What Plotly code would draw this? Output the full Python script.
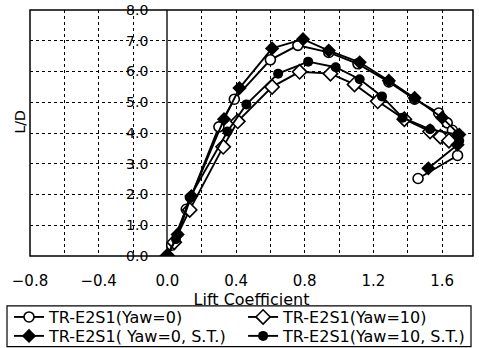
import plotly.graph_objects as go

# Lift-to-drag ratio versus lift coefficient, four test configurations
cl_yaw0 = [0.00, 0.025, 0.11, 0.30, 0.39, 0.60, 0.76, 0.94, 1.11, 1.29, 1.44, 1.58, 1.63, 1.66, 1.69, 1.46]
ld_yaw0 = [0.00, 0.35, 1.52, 4.20, 5.10, 6.38, 6.85, 6.62, 6.25, 5.66, 5.10, 4.65, 4.33, 4.09, 3.27, 2.52]

cl_yaw10 = [0.00, 0.04, 0.13, 0.325, 0.41, 0.61, 0.77, 0.95, 1.09, 1.225, 1.38, 1.53, 1.59, 1.64]
ld_yaw10 = [0.00, 0.45, 1.50, 3.55, 4.38, 5.50, 5.99, 5.93, 5.58, 5.03, 4.45, 4.05, 3.88, 3.75]

cl_yaw0_st = [0.00, 0.06, 0.14, 0.33, 0.42, 0.61, 0.79, 0.94, 1.12, 1.29, 1.44, 1.60, 1.70, 1.69, 1.52]
ld_yaw0_st = [0.00, 0.70, 1.95, 4.45, 5.46, 6.75, 7.05, 6.68, 6.30, 5.70, 5.14, 4.50, 3.95, 3.62, 2.85]

cl_yaw10_st = [0.00, 0.05, 0.13, 0.35, 0.46, 0.645, 0.82, 0.98, 1.12, 1.25, 1.37, 1.53, 1.69, 1.70]
ld_yaw10_st = [0.00, 0.55, 1.90, 4.05, 4.93, 5.93, 6.32, 6.14, 5.75, 5.19, 4.50, 4.12, 3.95, 3.75]

x_ticks = [-0.8, -0.4, 0.0, 0.4, 0.8, 1.2, 1.6]
x_minor = [-0.6, -0.2, 0.2, 0.6, 1.0, 1.4]
y_ticks = [0, 1, 2, 3, 4, 5, 6, 7, 8]

FONT = "DejaVu Sans"
X_MIN, X_MAX = -0.8, 1.78

fig = go.Figure()

# one legend box per cell of the 2x2 key
series = [
    ("TR-E2S1(Yaw=0)", cl_yaw0, ld_yaw0, "circle", True, 10, "legend"),
    ("TR-E2S1(Yaw=10)", cl_yaw10, ld_yaw10, "diamond", True, 11, "legend2"),
    ("TR-E2S1( Yaw=0, S.T.)", cl_yaw0_st, ld_yaw0_st, "diamond", False, 11, "legend3"),
    ("TR-E2S1(Yaw=10, S.T.)", cl_yaw10_st, ld_yaw10_st, "circle", False, 10, "legend4"),
]
for name, xs, ys, sym, hollow, size, leg in series:
    fig.add_trace(go.Scatter(
        x=xs, y=ys, name=name, mode="lines+markers", showlegend=True,
        line=dict(color="black", width=1.9),
        marker=dict(symbol=sym, size=size,
                    color="white" if hollow else "black",
                    line=dict(color="black", width=1.6 if hollow else 0)),
        legend=leg,
    ))

grid = dict(showgrid=True, gridcolor="#000000", gridwidth=1, griddash="dot")

fig.update_xaxes(
    range=[X_MIN, X_MAX], tickvals=x_ticks, tickformat=".1f",
    ticks="", ticklabelstandoff=14,
    zeroline=True, zerolinecolor="#555555", zerolinewidth=2,
    minor=dict(tickvals=x_minor, showgrid=True,
               gridcolor="#000000", gridwidth=1, griddash="dot"),
    title=dict(text="Lift Coefficient", font=dict(size=16, color="black"), standoff=0),
    tickfont=dict(size=15, color="black"),
    **grid,
)
fig.update_yaxes(
    range=[0, 8], tickvals=y_ticks, tickformat=".1f",
    anchor="free", position=(0 - X_MIN) / (X_MAX - X_MIN),
    ticks="", ticklabelstandoff=19, zeroline=False, showline=False,
    tickfont=dict(size=14, color="black"),
    **grid,
)

# plot frame and legend frame
fig.add_shape(type="rect", xref="paper", yref="paper", x0=0, x1=1, y0=0, y1=1,
              line=dict(color="black", width=1.5), layer="above")
fig.add_shape(type="rect", xref="paper", yref="paper",
              x0=-0.0519, x1=0.9955, y0=-0.368, y1=-0.203,
              line=dict(color="black", width=1.2))

fig.add_annotation(text="L/D", xref="paper", yref="paper", x=-0.0237, y=0.545,
                   xanchor="center", yanchor="middle",
                   textangle=-90, showarrow=False, font=dict(size=14, color="black"))

legend_style = dict(font=dict(size=16, color="black", family=FONT),
                    bgcolor="rgba(0,0,0,0)", borderwidth=0,
                    xanchor="left", yanchor="top", visible=True)
fig.update_layout(
    width=479, height=348,
    showlegend=True,
    margin=dict(l=30, r=6, t=10, b=92, autoexpand=False),
    paper_bgcolor="white", plot_bgcolor="white",
    font=dict(family=FONT, color="black"),
    legend=dict(x=-0.0474, y=-0.179, **legend_style),
    legend2=dict(x=0.481, y=-0.179, **legend_style),
    legend3=dict(x=-0.0474, y=-0.256, **legend_style),
    legend4=dict(x=0.481, y=-0.256, **legend_style),
)

fig.write_html("out.html")
